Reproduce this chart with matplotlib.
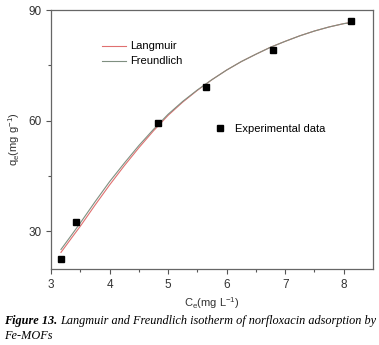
import numpy as np
import matplotlib.pyplot as plt

# experimental points
ce_exp = [3.17, 3.43, 4.83, 5.65, 6.79, 8.12]
qe_exp = [22.5, 32.4, 59.2, 69.2, 79.2, 87.0]

# fitted curves
ce_fit = [3.17, 3.35, 3.5, 3.75, 4.0, 4.25, 4.5, 4.75, 5.0, 5.25, 5.5, 5.75,
          6.0, 6.25, 6.5, 6.75, 7.0, 7.25, 7.5, 7.75, 8.0, 8.13]
q_lang = [24.2, 28.1, 31.3, 37.0, 42.5, 47.7, 52.6, 57.2, 61.4, 65.0, 68.2, 71.1,
          73.7, 76.0, 78.0, 79.9, 81.5, 83.0, 84.3, 85.4, 86.3, 86.6]
q_freu = [25.0, 28.9, 32.2, 37.9, 43.4, 48.4, 53.2, 57.6, 61.7, 65.2, 68.3, 71.1,
          73.7, 76.0, 78.0, 79.9, 81.5, 83.0, 84.3, 85.4, 86.3, 86.6]

plt.rcParams['font.family'] = ['Liberation Sans', 'DejaVu Sans']

fig = plt.figure(figsize=(3.79, 3.45), dpi=100)
ax = fig.add_axes([0.1346, 0.2203, 0.8496, 0.7507])

l1, = ax.plot(ce_fit, q_lang, color='#e07070', lw=0.8, label='Langmuir')
l2, = ax.plot(ce_fit, q_freu, color='#7f8f80', lw=0.8, label='Freundlich')
s1, = ax.plot(ce_exp, qe_exp, 's', color='black', ms=4.5, ls='none', label='Experimental data')

ax.set_xlim(3, 8.5)
ax.set_ylim(19.7, 90)
ax.set_xticks([3, 4, 5, 6, 7, 8])
ax.set_yticks([30, 60, 90])
ax.set_xticks(np.arange(3.5, 8.5, 1.0), minor=True)
ax.set_yticks([45, 75], minor=True)
ax.tick_params(which='both', direction='out', color='#555555', labelsize=8.5, labelcolor='#333333')
ax.tick_params(which='major', length=3.5, width=0.8)
ax.tick_params(which='minor', length=2, width=0.8)
for sp in ax.spines.values():
    sp.set_color('#666666')
    sp.set_linewidth(0.9)

ax.set_xlabel(r'C$_\mathregular{e}$(mg L$^\mathregular{-1}$)', fontsize=8, color='#333333', labelpad=3)
ax.set_ylabel(r'q$_\mathregular{e}$(mg g$^\mathregular{-1}$)', fontsize=8, color='#333333', labelpad=4)

leg1 = ax.legend(handles=[l1, l2], loc='upper left', bbox_to_anchor=(0.14, 0.9),
                 frameon=False, fontsize=8, handlelength=2.2, handletextpad=0.4,
                 labelspacing=0.45, borderpad=0)
ax.add_artist(leg1)
ax.legend(handles=[s1], loc='upper left', bbox_to_anchor=(0.49, 0.58),
          frameon=False, fontsize=8, handlelength=1.0, handletextpad=0.9, borderpad=0)

# caption: bold part then regular italic right after it
cap_font = dict(fontsize=8.8, family='Liberation Serif', style='italic')
t1 = fig.text(0.01, 0.062, 'Figure 13.', weight='bold', **cap_font)
fig.canvas.draw()
bb = t1.get_window_extent().transformed(fig.transFigure.inverted())
fig.text(bb.x1 + 0.008, 0.062,
         'Langmuir and Freundlich isotherm of norfloxacin adsorption by', **cap_font)
fig.text(0.01, 0.016, 'Fe-MOFs', **cap_font)

fig.savefig('out.png', dpi=100)
